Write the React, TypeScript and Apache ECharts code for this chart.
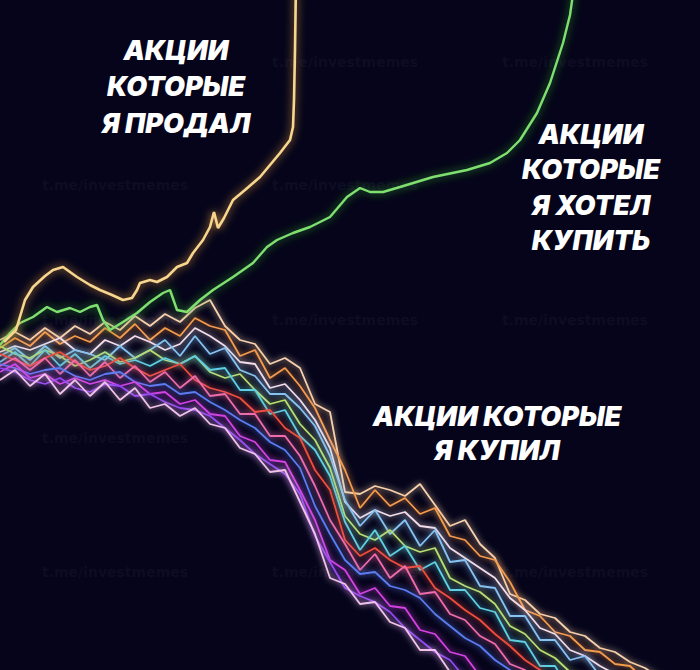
import React, { useEffect, useRef } from "react";
import * as echarts from "echarts";

// shared time grid for the falling stocks
const X = [0, 15, 30, 45, 60, 75, 90, 105, 120, 135, 150, 165, 180, 195, 210, 225, 240, 255, 270, 285, 300, 315, 330, 345, 360, 375, 390, 405, 420, 435, 450, 465, 480, 495, 510, 525, 540, 555, 570, 585, 600, 615, 630, 645, 660];

// "depth" values (larger = lower on the picture)
const bought1 = [340, 332, 340, 328, 338, 326, 334, 322, 330, 316, 326, 314, 322, 308, 300, 326, 340, 344, 364, 358, 368, 404, 412, 492, 494, 486, 490, 496, 484, 505, 526, 520, 544, 558, 594, 600, 614, 618, 632, 636, 648, 652, 662, 668, 678];
const bought2 = [348, 338, 346, 332, 344, 336, 342, 328, 338, 324, 340, 328, 336, 318, 326, 330, 356, 350, 378, 368, 386, 408, 440, 470, 508, 490, 506, 498, 514, 508, 536, 540, 556, 560, 582, 610, 616, 632, 636, 650, 652, 664, 666, 680, 690];
const bought3 = [352, 346, 350, 344, 338, 350, 354, 340, 346, 336, 342, 350, 344, 328, 336, 346, 362, 364, 388, 384, 400, 420, 448, 502, 518, 510, 516, 512, 526, 528, 548, 558, 568, 578, 598, 610, 628, 634, 650, 656, 666, 674, 684, 692, 700];
const bought4 = [356, 348, 360, 346, 358, 350, 354, 360, 346, 358, 350, 340, 356, 336, 354, 348, 370, 376, 394, 394, 408, 426, 456, 500, 526, 510, 534, 520, 546, 530, 562, 560, 586, 588, 616, 616, 640, 640, 660, 656, 676, 676, 694, 696, 714];
const bought5 = [346, 354, 358, 350, 356, 366, 360, 352, 362, 358, 350, 360, 364, 356, 372, 378, 374, 390, 404, 400, 424, 440, 468, 516, 534, 540, 530, 546, 552, 548, 578, 586, 592, 604, 626, 634, 650, 658, 672, 678, 696, 700, 714, 720, 736];
const bought6 = [362, 352, 366, 350, 366, 354, 368, 356, 364, 360, 366, 358, 364, 356, 370, 368, 390, 390, 414, 410, 436, 450, 476, 522, 550, 530, 556, 546, 570, 562, 590, 590, 608, 612, 640, 642, 666, 666, 690, 688, 710, 708, 730, 728, 750];
const bought7 = [354, 360, 366, 358, 352, 362, 370, 366, 358, 368, 376, 370, 364, 380, 388, 392, 398, 412, 410, 428, 438, 470, 490, 540, 556, 548, 560, 568, 566, 588, 598, 610, 620, 634, 646, 660, 670, 684, 692, 706, 712, 726, 734, 746, 752];
const bought8 = [366, 358, 370, 358, 374, 360, 376, 362, 378, 366, 382, 372, 388, 376, 396, 394, 414, 414, 436, 436, 456, 486, 520, 544, 570, 554, 578, 566, 594, 592, 614, 620, 636, 644, 664, 670, 690, 692, 710, 712, 730, 732, 750, 752, 770];
const bought9 = [364, 368, 374, 370, 368, 376, 380, 374, 372, 382, 386, 384, 394, 392, 402, 410, 420, 428, 442, 450, 468, 506, 534, 560, 574, 572, 586, 590, 598, 614, 626, 638, 646, 660, 670, 686, 694, 708, 714, 728, 734, 748, 754, 768, 774];
const bought10 = [372, 364, 378, 374, 384, 378, 384, 380, 386, 382, 394, 392, 404, 400, 414, 416, 436, 442, 460, 462, 490, 520, 560, 570, 594, 588, 606, 608, 630, 634, 652, 656, 676, 680, 700, 704, 724, 726, 744, 746, 764, 766, 784, 786, 804];
const bought11 = [368, 372, 380, 384, 378, 388, 392, 384, 386, 396, 394, 402, 408, 410, 416, 428, 440, 454, 464, 474, 494, 536, 562, 588, 596, 602, 612, 628, 640, 652, 660, 678, 686, 702, 710, 726, 734, 750, 758, 774, 782, 798, 806, 822, 830];
const bought12 = [380, 370, 386, 374, 394, 380, 396, 382, 400, 388, 408, 404, 416, 408, 424, 428, 448, 454, 472, 470, 502, 534, 578, 584, 604, 602, 622, 628, 650, 650, 672, 676, 696, 700, 720, 724, 744, 748, 768, 772, 792, 796, 816, 820, 840];

const boughtSeries = [bought1, bought2, bought3, bought4, bought5, bought6, bought7, bought8, bought9, bought10, bought11, bought12];
const boughtColors = ["#f7d2ae", "#f49a4c", "#f4dde8", "#86c2f2", "#b8de72", "#5ed0e2", "#ee4e3c", "#f06cac", "#5c7cf2", "#d442e2", "#9244f2", "#f2c2ea"];

// stocks I sold: [time, depth]
const soldX = [4, 16, 25, 33, 45, 53, 63, 77, 90, 100, 112, 123, 132, 137, 140, 150, 157, 167, 177, 187, 193, 203, 210, 214, 218, 224, 233, 245, 260, 270, 280, 290, 293, 294, 295, 296];
const soldY = [342, 330, 300, 287, 276, 270, 267, 277, 285, 290, 295, 300, 298, 290, 283, 280, 282, 277, 267, 263, 253, 240, 227, 212, 228, 218, 200, 190, 177, 165, 153, 140, 127, 100, 50, -20];

// stocks I wanted to buy
const wantedX = [0, 10, 20, 33, 47, 57, 70, 80, 90, 97, 103, 110, 123, 137, 150, 163, 170, 177, 187, 200, 213, 233, 253, 267, 277, 293, 310, 330, 347, 360, 370, 383, 400, 433, 467, 490, 507, 520, 537, 550, 563, 570, 575];
const wantedY = [345, 333, 323, 317, 307, 312, 308, 312, 307, 305, 320, 330, 322, 313, 302, 293, 290, 310, 312, 300, 290, 277, 263, 247, 240, 233, 227, 217, 197, 188, 192, 192, 187, 177, 170, 163, 153, 140, 113, 83, 43, 15, -20];

const labelSold = ["АКЦИИ", "КОТОРЫЕ", "Я ПРОДАЛ"];
const labelWanted = ["АКЦИИ", "КОТОРЫЕ", "Я ХОТЕЛ", "КУПИТЬ"];
const labelBought = ["АКЦИИ КОТОРЫЕ", "Я КУПИЛ"];
const watermark = "t.me/investmemes";
// watermark spots not hidden behind the captions
const wmSpots: [number, number][] = [
  [345, 62], [575, 62],
  [115, 185], [345, 185],
  [115, 320], [345, 320], [575, 320],
  [115, 438],
  [115, 572], [345, 572], [575, 572],
];

export default function App() {
  const ref = useRef<HTMLDivElement>(null);
  useEffect(() => {
    document.body.style.margin = "0";
    const chart = echarts.init(ref.current!, undefined, { renderer: "svg" });

    const series: any[] = boughtSeries.map((vals, k) => ({
      type: "line",
      name: "bought" + (k + 1),
      data: vals.map((v, i) => [X[i], v]),
      showSymbol: false,
      symbol: "none",
      clip: true,
      lineStyle: {
        width: 1.8,
        color: boughtColors[k],
        shadowBlur: 6,
        shadowColor: boughtColors[k],
      },
      z: 3,
    }));
    series.push({
      type: "line",
      name: "wanted",
      data: wantedX.map((x, i) => [x, wantedY[i]]),
      showSymbol: false,
      symbol: "none",
      clip: true,
      lineStyle: { width: 2.4, color: "#7fe070", shadowBlur: 8, shadowColor: "#2fa024" },
      z: 4,
    });
    series.push({
      type: "line",
      name: "sold",
      data: soldX.map((x, i) => [x, soldY[i]]),
      showSymbol: false,
      symbol: "none",
      clip: true,
      lineStyle: { width: 2.6, color: "#f8d68e", shadowBlur: 8, shadowColor: "#e09a3a" },
      z: 4,
    });

    const mkText = (t: string, x: number, y: number) => ({
      type: "text",
      x,
      y,
      z: 100,
      style: {
        text: t,
        fill: "#ffffff",
        fontFamily: "Inter, sans-serif",
        fontWeight: 900,
        fontStyle: "italic",
        fontSize: 27,
        align: "center",
        verticalAlign: "middle",
        textAlign: "center",
        textVerticalAlign: "middle",
      },
    });
    const graphics: any[] = [];
    wmSpots.forEach(([cx, ry]) =>
      graphics.push({
        type: "text",
        x: cx,
        y: ry,
        z: 0,
        style: {
          text: watermark,
          fill: "#0d0c23",
          fontFamily: '"DejaVu Sans", sans-serif',
          fontWeight: "bold",
          fontSize: 14,
          align: "center",
          verticalAlign: "middle",
          textAlign: "center",
          textVerticalAlign: "middle",
        },
      })
    );
    labelSold.forEach((t, i) => graphics.push(mkText(t, 176, 50 + i * 36.5)));
    labelWanted.forEach((t, i) => graphics.push(mkText(t, 591, 134 + i * 35.5)));
    labelBought.forEach((t, i) => graphics.push(mkText(t, 497, 416 + i * 34)));

    chart.setOption({
      animation: false,
      backgroundColor: "#05041a",
      grid: { left: 0, right: 0, top: 0, bottom: 0, containLabel: false },
      xAxis: { type: "value", min: 0, max: 700, show: false },
      yAxis: { type: "value", min: 0, max: 670, inverse: true, show: false },
      tooltip: { show: false },
      series,
      graphic: { elements: graphics },
    });
    return () => chart.dispose();
  }, []);
  return <div ref={ref} style={{ width: 700, height: 670 }} />;
}
